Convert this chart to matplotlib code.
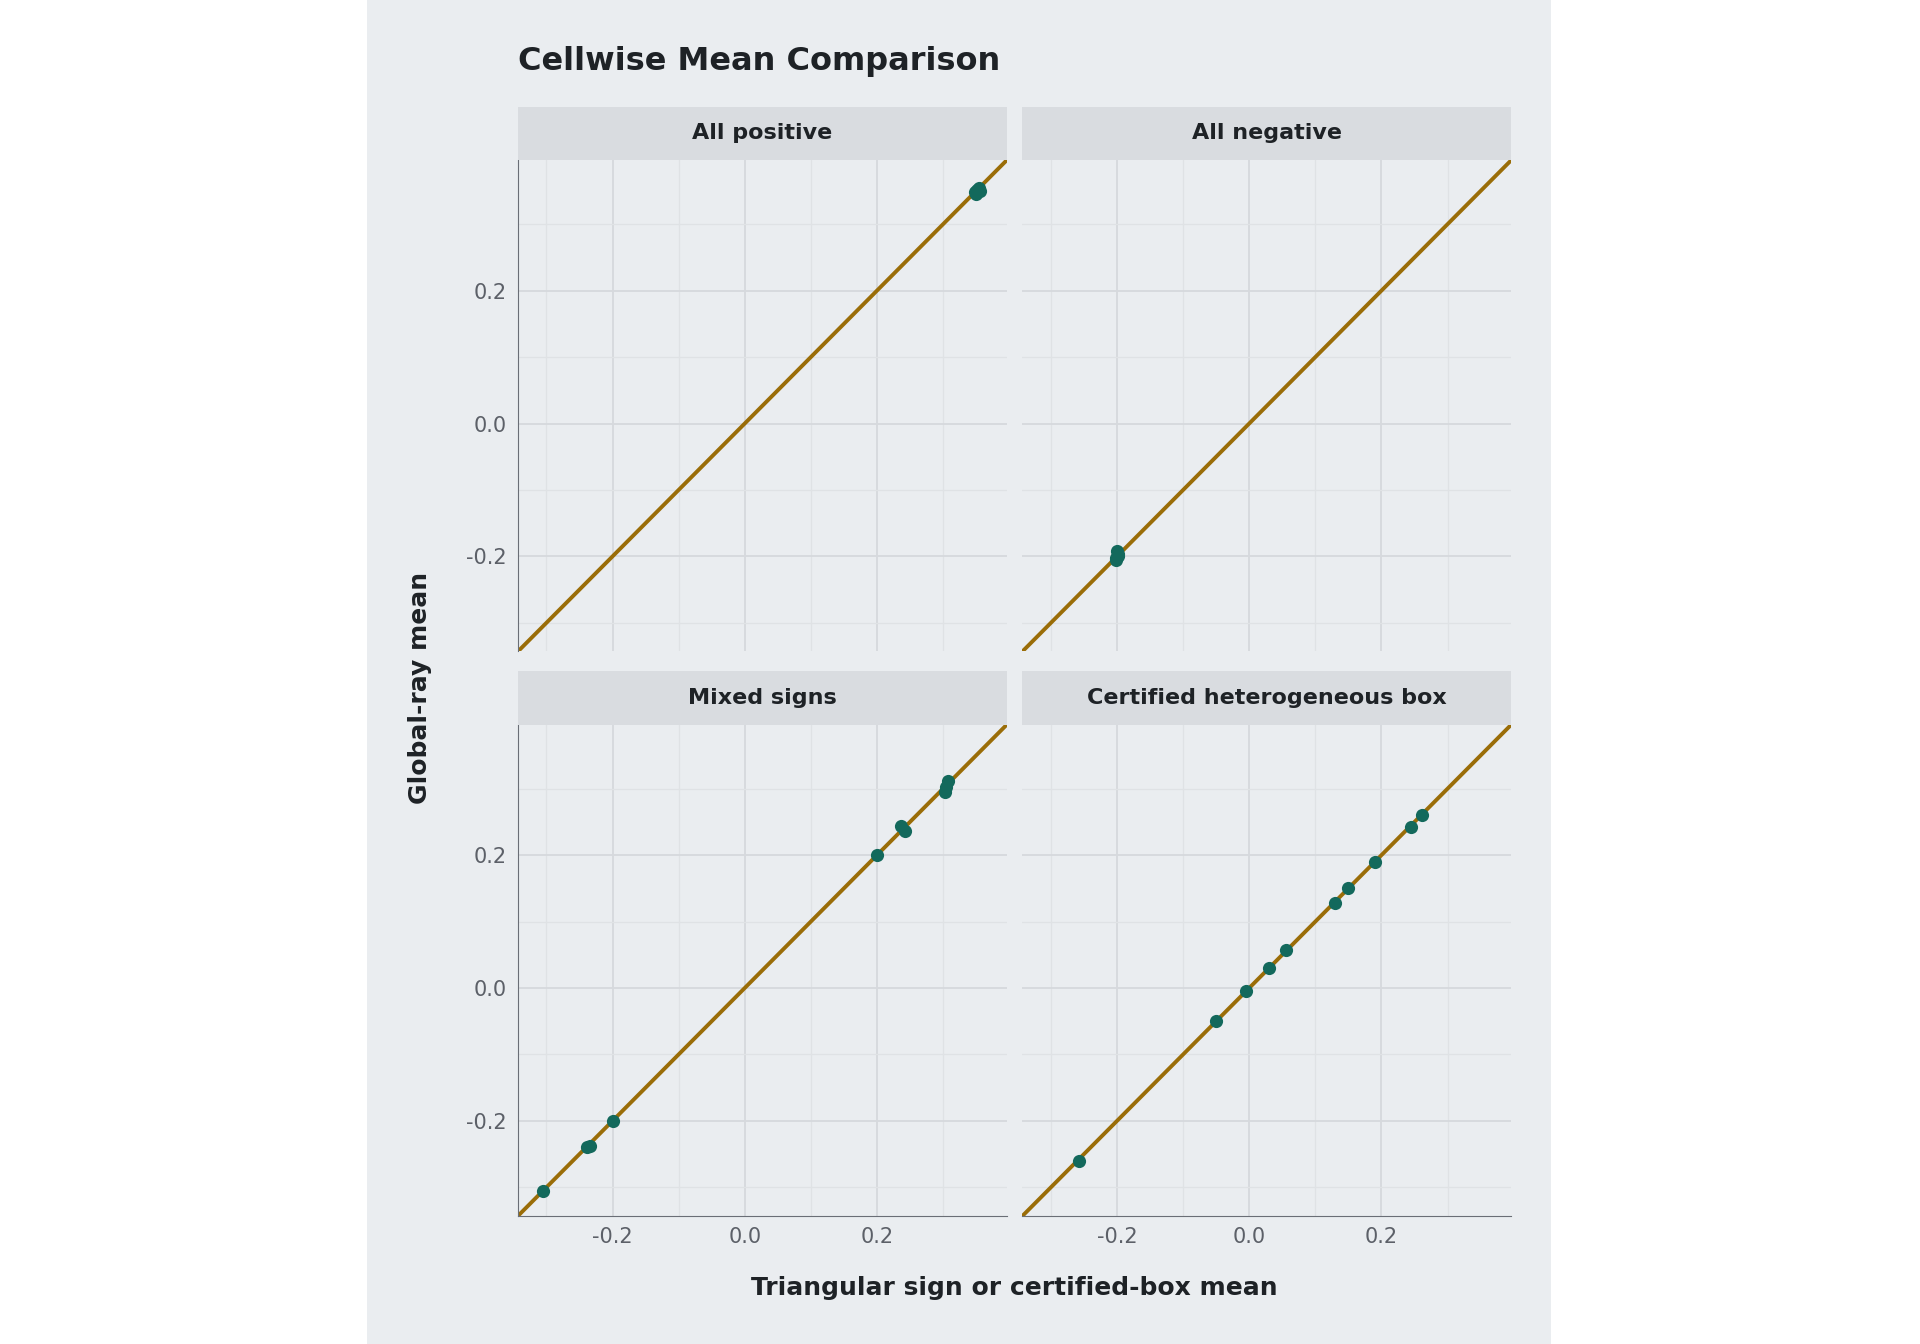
import matplotlib.pyplot as plt
import numpy as np

# data
panels = ["All positive", "All negative", "Mixed signs", "Certified heterogeneous box"]
pos_x = [0.348, 0.352, 0.355, 0.350, 0.356]
pos_y = [0.348, 0.352, 0.355, 0.345, 0.350]
neg_x = [-0.200, -0.198, -0.202, -0.199, -0.201]
neg_y = [-0.192, -0.200, -0.205, -0.196, -0.202]
mix_x = [-0.305, -0.238, -0.234, -0.200, 0.200, 0.237, 0.243, 0.303, 0.305, 0.308]
mix_y = [-0.305, -0.240, -0.238, -0.200, 0.200, 0.244, 0.236, 0.295, 0.302, 0.311]
box_x = [-0.258, -0.050, -0.005, 0.030, 0.055, 0.130, 0.150, 0.190, 0.245, 0.262]
box_y = [-0.260, -0.050, -0.005, 0.030, 0.057, 0.128, 0.150, 0.190, 0.242, 0.260]
series = [(pos_x, pos_y), (neg_x, neg_y), (mix_x, mix_y), (box_x, box_y)]

lim = (-0.343, 0.396)
ticks = [-0.2, 0.0, 0.2]
minor = [-0.3, -0.1, 0.1, 0.3]

W, H = 1920, 1344
s = 1920 / 1568
bg = "#eaedf0"
line_c = "#9a6d08"
pt_c = "#13695c"
txt = "#1e2226"
tick_c = "#5c6068"

fig = plt.figure(figsize=(19.2, 13.44), dpi=100, facecolor="white")
fig.patches.append(plt.Rectangle((300 * s / W, 0), 967 * s / W, 1, transform=fig.transFigure,
                                 facecolor=bg, zorder=-10))

def box(x0, y0, x1, y1):
    return [x0 * s / W, 1 - y1 * s / H, (x1 - x0) * s / W, (y1 - y0) * s / H]

cols = [(423, 822), (835, 1234)]
rows = [(131, 532), (592, 993)]
for i, (name, (xs, ys)) in enumerate(zip(panels, series)):
    r, c = divmod(i, 2)
    x0, x1 = cols[c]
    y0, y1 = rows[r]
    ax = fig.add_axes(box(x0, y0, x1, y1))
    ax.set_facecolor(bg)
    ax.set_xlim(lim)
    ax.set_ylim(lim)
    ax.set_xticks(ticks)
    ax.set_yticks(ticks)
    ax.set_xticks(minor, minor=True)
    ax.set_yticks(minor, minor=True)
    ax.grid(True, which="major", color="#d6d9dd", lw=1.3)
    ax.grid(True, which="minor", color="#dfe2e5", lw=0.9)
    ax.set_axisbelow(True)
    for sp in ax.spines.values():
        sp.set_visible(False)
    ax.tick_params(which="both", length=0, labelsize=15, colors=tick_c, pad=8)
    if c == 0:
        ax.spines["left"].set_visible(True)
        ax.spines["left"].set_color("#6a6e76")
        ax.set_yticklabels(["-0.2", "0.0", "0.2"])
    else:
        ax.set_yticklabels([])
    if r == 1:
        ax.spines["bottom"].set_visible(True)
        ax.spines["bottom"].set_color("#6a6e76")
        ax.set_xticklabels(["-0.2", "0.0", "0.2"])
    else:
        ax.set_xticklabels([])
    ax.plot(lim, lim, color=line_c, lw=2.8, zorder=2)
    ax.scatter(xs, ys, s=90, color=pt_c, zorder=3, linewidths=0)
    sax = fig.add_axes(box(x0, y0 - 44, x1, y0))
    sax.set_facecolor("#d9dce0")
    sax.set_xticks([])
    sax.set_yticks([])
    for sp in sax.spines.values():
        sp.set_visible(False)
    sax.text(0.5, 0.5, name, ha="center", va="center", fontsize=16,
             fontweight="bold", color=txt, transform=sax.transAxes)

fig.text(423 * s / W, 1 - 50 * s / H, "Cellwise Mean Comparison", fontsize=23,
         fontweight="bold", color=txt, va="center", ha="left")
fig.text(828 * s / W, 1 - 1052 * s / H, "Triangular sign or certified-box mean", fontsize=18,
         fontweight="bold", color=txt, va="center", ha="center")
fig.text(343 * s / W, 1 - 562 * s / H, "Global-ray mean", fontsize=18,
         fontweight="bold", color=txt, va="center", ha="center", rotation=90)

fig.savefig("out.png", dpi=100, facecolor="white")
